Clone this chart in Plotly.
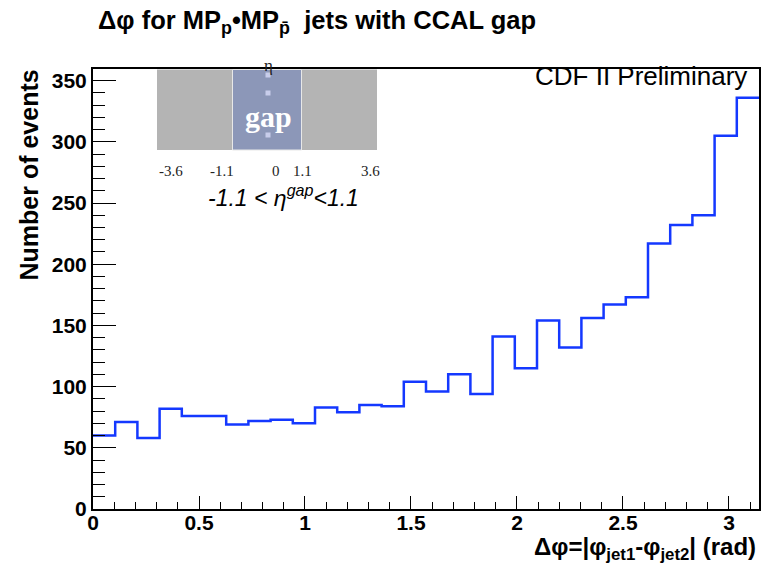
import numpy as np
import plotly.graph_objects as go

# Data: 30 bins of delta-phi from 0 to pi
n_bins = 30
counts = [60, 71, 58, 82, 76, 76, 69, 72, 73, 70,
          83, 79, 85, 84, 104, 96, 110, 94, 141, 115,
          154, 132, 156, 167, 173, 217, 232, 240, 305, 336]
x_ticks = [0, 0.5, 1, 1.5, 2, 2.5, 3]
x_tick_labels = ["0", "0.5", "1", "1.5", "2", "2.5", "3"]
y_ticks = [0, 50, 100, 150, 200, 250, 300, 350]
eta_labels = ["-3.6", "-1.1", "0", "1.1", "3.6"]

edges = np.linspace(0, np.pi, n_bins + 1)
y_step = counts + [counts[-1]]

W, H = 761, 565
L, R, T, B = 93, 2, 69, 56
PW, PH = W - L - R, H - T - B


def px(x):
    return (x - L) / PW


def py(y):
    return (H - B - y) / PH


SANS = "Liberation Sans, Arial, sans-serif"
SERIF = "Liberation Serif, Times New Roman, serif"

fig = go.Figure()
fig.add_trace(go.Scatter(
    x=edges, y=y_step, mode="lines", line=dict(shape="hv", color="#1438ff", width=2.5),
    hoverinfo="skip", showlegend=False))

ax_font = dict(family=SANS, size=21, color="black", weight="bold")

fig.update_layout(
    width=W, height=H,
    margin=dict(l=L, r=R, t=T, b=B),
    paper_bgcolor="white", plot_bgcolor="white",
    font=dict(family=SANS, color="black"),
    xaxis=dict(range=[0, np.pi], tickvals=x_ticks, ticktext=x_tick_labels,
               ticks="inside", ticklen=13, tickwidth=1.3, tickcolor="black",
               minor=dict(dtick=0.1, ticks="inside", ticklen=7, tickcolor="black", tickwidth=1),
               showline=True, linecolor="black", linewidth=2, mirror=True,
               showgrid=False, zeroline=False, tickfont=ax_font, automargin=False,
               ticklabelstandoff=-6),
    yaxis=dict(range=[0, 359.5], tickvals=y_ticks,
               ticks="inside", ticklen=23, tickwidth=1.3, tickcolor="black",
               minor=dict(dtick=10, ticks="inside", ticklen=12, tickcolor="black", tickwidth=1),
               showline=True, linecolor="black", linewidth=2, mirror=True,
               showgrid=False, zeroline=False, tickfont=ax_font, automargin=False),
)

annos = []
# Title
annos.append(dict(text="<b>Δφ for MP<sub>p</sub>•MP<sub>p̄</sub>  jets with CCAL gap</b>",
                  x=px(96), y=py(22), xref="paper", yref="paper", xanchor="left", yanchor="middle",
                  showarrow=False, font=dict(size=25.5, family=SANS)))
# Y axis title
annos.append(dict(text="<b>Number of events</b>", textangle=-90,
                  x=px(28), y=py(68), xref="paper", yref="paper", xanchor="center", yanchor="top",
                  showarrow=False, font=dict(size=25, family=SANS)))
# X axis title
annos.append(dict(text="<b>Δφ=|φ<sub>jet1</sub>-φ<sub>jet2</sub>| (rad)</b>",
                  x=px(758), y=py(548), xref="paper", yref="paper", xanchor="right", yanchor="middle",
                  showarrow=False, font=dict(size=24, family=SANS)))
# CDF label
annos.append(dict(text="CDF II Preliminary",
                  x=px(749), y=py(76), xref="paper", yref="paper", xanchor="right", yanchor="middle",
                  showarrow=False, font=dict(size=26, family=SANS)))

# Inset picture
shapes = []
shapes.append(dict(type="rect", xref="paper", yref="paper", x0=px(157), x1=px(377), y0=py(150), y1=py(69.5),
                   fillcolor="#b4b4b4", line=dict(width=0), layer="above"))
shapes.append(dict(type="rect", xref="paper", yref="paper", x0=px(232.5), x1=px(301.5), y0=py(150), y1=py(69.5),
                   fillcolor="#8c97b8", line=dict(color="#e8e8e8", width=1), layer="above"))
for sy in [75, 93, 135]:
    shapes.append(dict(type="rect", xref="paper", yref="paper", x0=px(265.5), x1=px(270.5),
                       y0=py(sy + 2.5), y1=py(sy - 2.5), fillcolor="#c8cdeb", line=dict(width=0), layer="above"))

annos.append(dict(text="<b>gap</b>", x=px(268), y=py(116), xref="paper", yref="paper",
                  xanchor="center", yanchor="middle", showarrow=False,
                  font=dict(size=30, color="white", family=SERIF)))
annos.append(dict(text="η", x=px(268), y=py(65), xref="paper", yref="paper",
                  xanchor="center", yanchor="middle", showarrow=False,
                  font=dict(size=17, color="#222", family=SERIF)))
for lab, lx in zip(eta_labels, [170.5, 221.5, 276, 302, 370]):
    annos.append(dict(text=lab, x=px(lx), y=py(170.5), xref="paper", yref="paper",
                      xanchor="center", yanchor="middle", showarrow=False,
                      font=dict(size=15, color="#222", family=SERIF)))
annos.append(dict(text="<i>-1.1 < η<sup>gap</sup><1.1</i>", x=px(283), y=py(196), xref="paper", yref="paper",
                  xanchor="center", yanchor="middle", showarrow=False,
                  font=dict(size=23, color="black", family=SANS)))

fig.update_layout(annotations=annos, shapes=shapes)
fig.write_html("out.html", config={"displayModeBar": False},
               post_script="document.body.style.margin='0px';document.body.style.overflow='hidden';")
